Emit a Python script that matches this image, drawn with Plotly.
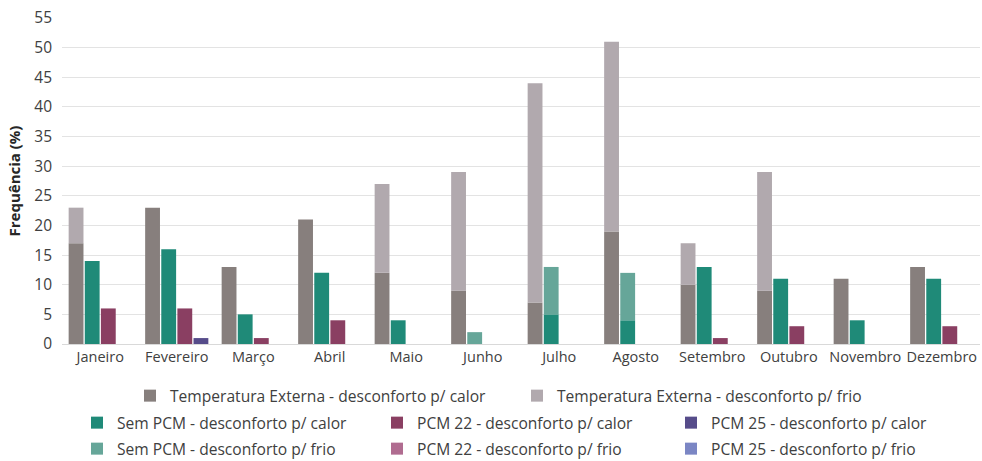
import plotly.graph_objects as go

meses = ["Janeiro", "Fevereiro", "Março", "Abril", "Maio", "Junho", "Julho",
         "Agosto", "Setembro", "Outubro", "Novembro", "Dezembro"]

text_calor = [17, 23, 13, 21, 12, 9, 7, 19, 10, 9, 11, 13]
text_frio = [6, 0, 0, 0, 15, 20, 37, 32, 7, 20, 0, 0]
sem_calor = [14, 16, 5, 12, 4, 0, 5, 4, 13, 11, 4, 11]
sem_frio = [0, 0, 0, 0, 0, 2, 8, 8, 0, 0, 0, 0]
p22_calor = [6, 6, 1, 4, 0, 0, 0, 0, 1, 3, 0, 3]
p22_frio = [0, 0, 0, 0, 0, 0, 0, 0, 0, 0, 0, 0]
p25_calor = [0, 1, 0, 0, 0, 0, 0, 0, 0, 0, 0, 0]
p25_frio = [0, 0, 0, 0, 0, 0, 0, 0, 0, 0, 0, 0]

y_ticks = list(range(0, 56, 5))

FONT = "Open Sans"
TXT = "#404040"

series = [
    ("Temperatura Externa - desconforto p/ calor", text_calor, None, "g1", "#877F7D"),
    ("Temperatura Externa - desconforto p/ frio", text_frio, text_calor, "g1", "#B1A9AE"),
    ("Sem PCM - desconforto p/ calor", sem_calor, None, "g2", "#1F8A78"),
    ("PCM 22 - desconforto p/ calor", p22_calor, None, "g3", "#8A3F62"),
    ("PCM 25 - desconforto p/ calor", p25_calor, None, "g4", "#564C8A"),
    ("Sem PCM - desconforto p/ frio", sem_frio, sem_calor, "g2", "#66A699"),
    ("PCM 22 - desconforto p/ frio", p22_frio, p22_calor, "g3", "#B06C90"),
    ("PCM 25 - desconforto p/ frio", p25_frio, p25_calor, "g4", "#7B86C4"),
]

# legend text start (pixel x) and row center (pixel y)
leg_pos = [(170, 396), (557, 396),
           (117, 423), (417, 423), (711, 423),
           (117, 449), (417, 449), (711, 449)]
TEXT_OFFSET = 40

L, R, T, B = 62, 2, 18, 117
W, H = 982, 461
pw = W - L - R
ph = H - T - B

fig = go.Figure()
layout_legends = {}
for i, (name, vals, base, grp, col) in enumerate(series):
    lname = "legend" if i == 0 else f"legend{i+1}"
    fig.add_trace(go.Bar(
        x=meses, y=vals, base=base, name=name, offsetgroup=grp,
        marker=dict(color=col, line=dict(width=0)),
        legend=lname,
    ))
    px, py = leg_pos[i]
    layout_legends[lname] = dict(
        x=(px - TEXT_OFFSET - L) / pw, y=(H - B - py) / ph,
        xanchor="left", yanchor="middle",
        xref="paper", yref="paper", bgcolor="rgba(0,0,0,0)",
        font=dict(family=FONT, size=15.6, color=TXT),
        itemwidth=30, tracegroupgap=0,
    )

fig.update_layout(
    width=W, height=H,
    margin=dict(l=L, r=R, t=T, b=B, autoexpand=False),
    barmode="group",
    bargap=0.157,
    bargroupgap=0.08,
    plot_bgcolor="white",
    paper_bgcolor="white",
    showlegend=True,
    font=dict(family=FONT, size=14, color=TXT),
    **layout_legends,
)
fig.update_xaxes(
    tickfont=dict(family=FONT, size=14.5, color=TXT),
    showgrid=False, showline=True, linecolor="#D9D9D9", linewidth=1,
    ticks="", automargin=False,
)
fig.update_yaxes(
    range=[0, 55], tickvals=y_ticks,
    tickfont=dict(family=FONT, size=15.5, color=TXT),
    showgrid=True, gridcolor="#E3E3E3", gridwidth=1,
    zeroline=False, showline=False, ticks="", ticklabelstandoff=9,
    automargin=False,
    title=dict(text="<b>Frequência (%)</b>", font=dict(family=FONT, size=15, color="#262626"),
               standoff=10),
)
fig.write_html("out.html")
